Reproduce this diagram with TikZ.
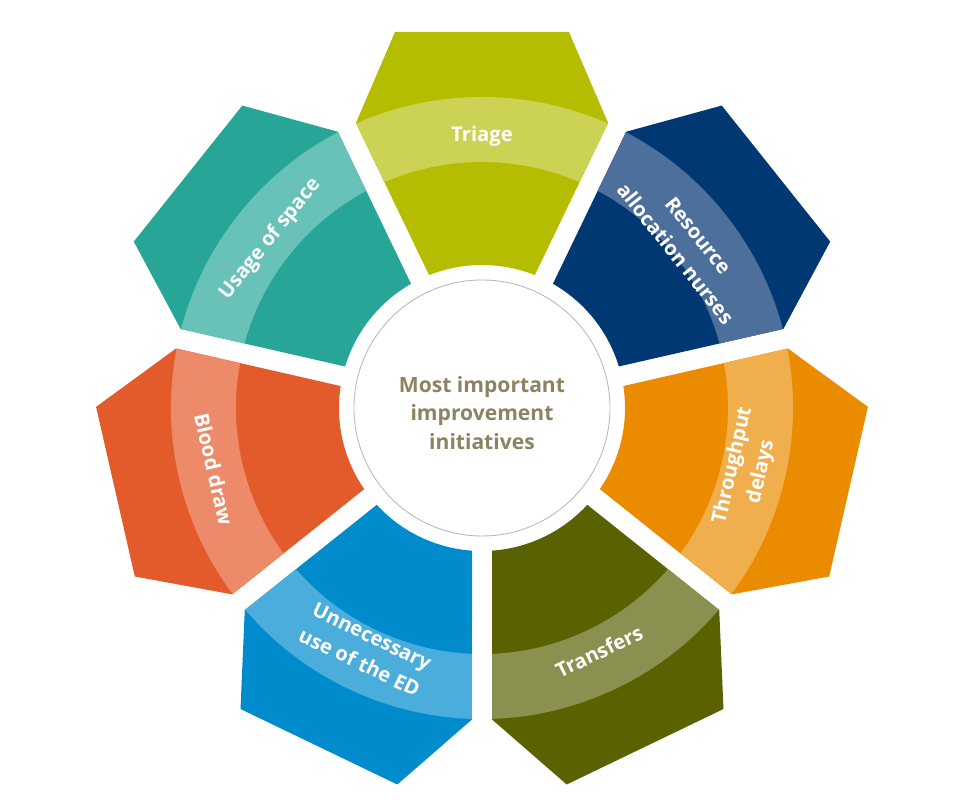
\documentclass[tikz,border=0pt]{standalone}
\usepackage{fontspec}
\setmainfont{Open Sans}
\definecolor{triageD}{HTML}{B5BD00}
\definecolor{triageL}{HTML}{CCD253}
\definecolor{resourceD}{HTML}{003874}
\definecolor{resourceL}{HTML}{4D6F9B}
\definecolor{throughD}{HTML}{EB8B00}
\definecolor{throughL}{HTML}{F0AE4C}
\definecolor{transferD}{HTML}{596100}
\definecolor{transferL}{HTML}{8B8F4F}
\definecolor{unnecD}{HTML}{008CCC}
\definecolor{unnecL}{HTML}{4AADDB}
\definecolor{bloodD}{HTML}{E35B2B}
\definecolor{bloodL}{HTML}{EC8A69}
\definecolor{spaceD}{HTML}{27A697}
\definecolor{spaceL}{HTML}{68C2B7}
\definecolor{hubtxt}{HTML}{8B8462}
% one petal, pointing at angle #1, dark fill #2, band #3
\newcommand{\drawpetal}[3]{%
  \begin{scope}[rotate=#1-90]
    \clip (-52.9,132.9) arc[start angle=111.7,end angle=68.3,radius=143]
      -- (126.1,285) -- (87,376) -- (-87,376) -- (-126.1,285) -- cycle;
    \fill[#2] (-200,100) rectangle (200,400);
    \fill[#3,even odd rule] (0,0) circle[radius=311] (0,0) circle[radius=246];
  \end{scope}}
\begin{document}
\begin{tikzpicture}[x=0.02cm,y=0.02cm,
  every node/.style={font=\bfseries\fontsize{11.5}{16.5}\selectfont},
  lbl/.style={text=white,align=center,inner sep=0pt},
  hubtext/.style={text=hubtxt,align=center,font=\bfseries\fontsize{12}{16}\selectfont}
]
\useasboundingbox (-482,-402) rectangle (478,408);
\drawpetal{90}{triageD}{triageL}
\drawpetal{38.57}{resourceD}{resourceL}
\drawpetal{-12.86}{throughD}{throughL}
\drawpetal{-64.29}{transferD}{transferL}
\drawpetal{-115.71}{unnecD}{unnecL}
\drawpetal{-167.14}{bloodD}{bloodL}
\drawpetal{141.43}{spaceD}{spaceL}
\draw[gray!55,line width=0.5pt] (0,0) circle[radius=128];
\node[hubtext] (hub) at (0,-5) {Most important\\improvement\\initiatives};
\node[lbl] (triage) at (90:272) {Triage};
\node[lbl,rotate=-51.43] (resource) at (38.57:262) {Resource\\allocation nurses};
\node[lbl,rotate=77.14] (through) at (-12.86:272) {Throughput\\delays};
\node[lbl,rotate=25.71] (transfer) at (-64.29:270) {Transfers};
\node[lbl,rotate=-25.71] (unnec) at (-115.71:268) {Unnecessary\\use of the ED};
\node[lbl,rotate=-77.14] (blood) at (-167.14:275) {Blood draw};
\node[lbl,rotate=51.43] (space) at (141.43:271) {Usage of space};
\end{tikzpicture}
\end{document}
